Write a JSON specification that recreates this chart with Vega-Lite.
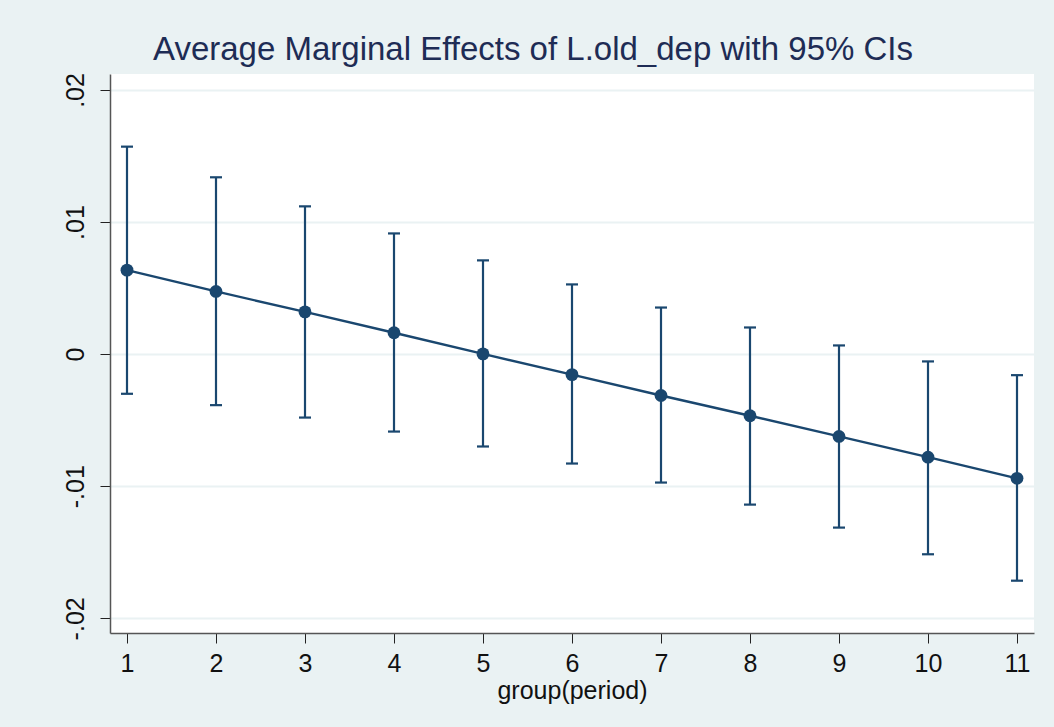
{
  "$schema": "https://vega.github.io/schema/vega-lite/v6.json",
  "autosize": {"type": "none"},
  "width": 924,
  "height": 559,
  "padding": {"left": 110, "top": 74, "right": 20, "bottom": 94},
  "background": "#EAF2F3",
  "config": {
    "view": {"fill": "white", "stroke": null},
    "font": "Liberation Sans"
  },
  "title": {
    "text": "Average Marginal Effects of L.old_dep with 95% CIs",
    "font": "Liberation Sans",
    "fontSize": 33,
    "fontWeight": "normal",
    "color": "#1E2C55",
    "anchor": "middle",
    "frame": "group",
    "baseline": "alphabetic",
    "offset": 12,
    "dx": -39,
    "dy": 32
  },
  "data": {
    "values": [
      {"period": 1, "margin": 0.00636, "lo": -0.0030, "hi": 0.01571},
      {"period": 2, "margin": 0.00475, "lo": -0.00386, "hi": 0.01339},
      {"period": 3, "margin": 0.00320, "lo": -0.00480, "hi": 0.01119},
      {"period": 4, "margin": 0.00162, "lo": -0.00586, "hi": 0.00914},
      {"period": 5, "margin": 0.00002, "lo": -0.00699, "hi": 0.00710},
      {"period": 6, "margin": -0.00155, "lo": -0.00828, "hi": 0.00528},
      {"period": 7, "margin": -0.00313, "lo": -0.00972, "hi": 0.00353},
      {"period": 8, "margin": -0.00466, "lo": -0.01139, "hi": 0.00202},
      {"period": 9, "margin": -0.00623, "lo": -0.01313, "hi": 0.00066},
      {"period": 10, "margin": -0.00780, "lo": -0.01515, "hi": -0.00055},
      {"period": 11, "margin": -0.00940, "lo": -0.01715, "hi": -0.00159}
    ]
  },
  "encoding": {
    "x": {
      "field": "period",
      "type": "quantitative",
      "scale": {"domain": [0.809, 11.191], "nice": false, "zero": false},
      "axis": {
        "values": [1, 2, 3, 4, 5, 6, 7, 8, 9, 10, 11],
        "format": "d",
        "title": "group(period)",
        "grid": false,
        "domainColor": "#555555",
        "domainWidth": 1.5,
        "tickColor": "#222222",
        "tickSize": 10,
        "tickWidth": 1,
        "labelFontSize": 25,
        "labelColor": "#111111",
        "labelPadding": 8,
        "labelFont": "Liberation Sans",
        "titleFont": "Liberation Sans",
        "titleFontSize": 25,
        "titleFontWeight": "normal",
        "titleColor": "#111111",
        "titlePadding": 2
      }
    }
  },
  "layer": [
    {
      "mark": {"type": "line", "color": "#1A476F", "strokeWidth": 2.4},
      "encoding": {
        "y": {
          "field": "margin",
          "type": "quantitative",
          "scale": {"domain": [-0.02111, 0.02121], "nice": false, "zero": false},
          "axis": {
            "values": [-0.02, -0.01, 0, 0.01, 0.02],
            "labelExpr": "datum.value == 0 ? '0' : (datum.value < 0 ? '-' : '') + replace(format(abs(datum.value), '.2f'), '0.', '.')",
            "title": null,
            "grid": true,
            "gridColor": "#EAF2F3",
            "gridWidth": 2,
            "domainColor": "#555555",
            "domainWidth": 1.5,
            "tickColor": "#222222",
            "tickSize": 10,
            "tickWidth": 1,
            "labelFontSize": 25,
            "labelColor": "#111111",
            "labelFont": "Liberation Sans",
            "labelAngle": 270,
            "labelAlign": "center",
            "labelBaseline": "bottom",
            "labelPadding": 12
          }
        }
      }
    },
    {
      "mark": {"type": "rule", "color": "#1A476F", "strokeWidth": 2.2},
      "encoding": {
        "y": {"field": "lo", "type": "quantitative"},
        "y2": {"field": "hi"}
      }
    },
    {
      "mark": {"type": "tick", "orient": "horizontal", "color": "#1A476F", "size": 12, "thickness": 2.2, "opacity": 1},
      "encoding": {
        "y": {"field": "lo", "type": "quantitative"}
      }
    },
    {
      "mark": {"type": "tick", "orient": "horizontal", "color": "#1A476F", "size": 12, "thickness": 2.2, "opacity": 1},
      "encoding": {
        "y": {"field": "hi", "type": "quantitative"}
      }
    },
    {
      "mark": {"type": "point", "shape": "circle", "filled": true, "color": "#1A476F", "size": 165, "opacity": 1},
      "encoding": {
        "y": {"field": "margin", "type": "quantitative"}
      }
    }
  ]
}
